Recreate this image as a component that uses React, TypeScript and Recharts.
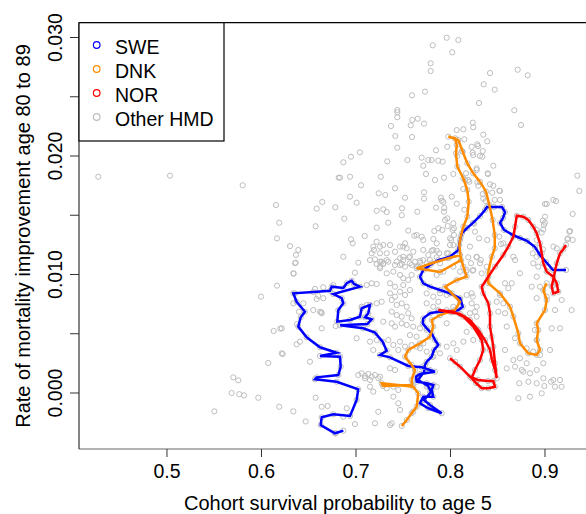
import React from "react";
import { ScatterChart, Scatter, XAxis, YAxis, ReferenceLine } from "recharts";

// axis ranges and ticks
const X_MIN = 0.4069;
const X_MAX = 0.9582;
const Y_MIN = -0.004726;
const Y_MAX = 0.031249;
const X_TICKS = [0.5, 0.6, 0.7, 0.8, 0.9];
const Y_TICKS = [0, 0.005, 0.01, 0.015, 0.02, 0.025, 0.03];

const LEGEND = [
  { label: "SWE", color: "#0000FF" },
  { label: "DNK", color: "#FF8C00" },
  { label: "NOR", color: "#FF0000" },
  { label: "Other HMD", color: "#BEBEBE" },
];

type Pt = [number, number];

const SWE: Pt[] = [
  [0.6866, -0.00318], [0.6778, -0.0034], [0.6626, -0.0027], [0.6637, -0.00205], [0.676, -0.0018],
  [0.6937, -0.00194], [0.7007, -0.00059], [0.7024, 0.00031], [0.6796, 0.00095], [0.6566, 0.00116],
  [0.6584, 0.00132], [0.6813, 0.00152], [0.6838, 0.00222], [0.6831, 0.00306], [0.6619, 0.00312],
  [0.6796, 0.0034], [0.6619, 0.00386], [0.6478, 0.0047], [0.6389, 0.0056], [0.6415, 0.00639],
  [0.646, 0.00686], [0.6372, 0.0077], [0.6337, 0.00841], [0.6548, 0.00852], [0.6725, 0.00863],
  [0.6743, 0.00897], [0.6866, 0.00886], [0.6902, 0.00926], [0.6954, 0.00948], [0.6979, 0.0092],
  [0.7042, 0.00897], [0.676, 0.00835], [0.6849, 0.008], [0.6866, 0.00757], [0.6813, 0.007],
  [0.6802, 0.00602], [0.6937, 0.00616], [0.7042, 0.00644], [0.706, 0.00715], [0.7148, 0.00743],
  [0.713, 0.00673], [0.7095, 0.00639], [0.7166, 0.00622], [0.712, 0.00582], [0.6831, 0.00571],
  [0.7077, 0.00546], [0.7201, 0.00509], [0.7282, 0.00433], [0.7325, 0.00357], [0.7254, 0.00321],
  [0.736, 0.00301], [0.7553, 0.00228], [0.7695, 0.00217], [0.7783, 0.00194], [0.7836, 0.0018],
  [0.7677, 0.0016], [0.7635, 0.00138], [0.7642, 0.00095], [0.7748, 0.00082], [0.7818, 0.00068],
  [0.7801, 0.00025], [0.7818, -0.00031], [0.7712, -0.00031], [0.7677, -0.00087], [0.7765, -0.00129],
  [0.7907, -0.00171], [0.7783, -0.00101], [0.772, -0.00059], [0.7794, 0.00008], [0.7762, 0.00059],
  [0.7656, 0.0011], [0.772, 0.00177], [0.773, 0.00236], [0.7748, 0.00264], [0.7801, 0.00306],
  [0.7825, 0.00363], [0.7871, 0.00405], [0.7836, 0.00447], [0.7801, 0.00504], [0.7748, 0.00546],
  [0.7706, 0.00588], [0.7712, 0.0063], [0.7783, 0.00673], [0.7871, 0.00686], [0.7995, 0.00686],
  [0.8083, 0.007], [0.813, 0.00728], [0.8101, 0.008], [0.7995, 0.00841], [0.7889, 0.00869],
  [0.7783, 0.00897], [0.7712, 0.00926], [0.7677, 0.00981], [0.7712, 0.01038], [0.7783, 0.0108],
  [0.7871, 0.01122], [0.7995, 0.0115], [0.8083, 0.01207], [0.8101, 0.01291], [0.8122, 0.0135],
  [0.8175, 0.01392], [0.8238, 0.01435], [0.8312, 0.01494], [0.8365, 0.01544], [0.8386, 0.0157],
  [0.846, 0.0157], [0.8545, 0.0157], [0.8577, 0.01527], [0.8556, 0.01477], [0.8524, 0.01435],
  [0.8566, 0.01376], [0.8661, 0.01333], [0.8735, 0.01308], [0.881, 0.01283], [0.8894, 0.01232],
  [0.8947, 0.01165], [0.9011, 0.01105], [0.9085, 0.01038], [0.9222, 0.01038],
];

const DNK: Pt[] = [
  [0.7484, -0.00278], [0.7537, -0.00228], [0.7589, -0.00171], [0.7642, -0.00116], [0.7659, -0.00003],
  [0.7606, 0.00053], [0.7272, 0.00082], [0.7286, 0.00059], [0.7593, 0.00068], [0.7589, 0.0011],
  [0.7624, 0.00194], [0.7589, 0.00236], [0.7519, 0.00306], [0.7553, 0.00363], [0.7677, 0.00419],
  [0.7783, 0.00475], [0.7818, 0.0056], [0.7801, 0.00616], [0.7889, 0.00658], [0.8048, 0.007],
  [0.8101, 0.0077], [0.8013, 0.00841], [0.7942, 0.00897], [0.8066, 0.00954], [0.8171, 0.00981],
  [0.8136, 0.01066], [0.8101, 0.01165], [0.7977, 0.01137], [0.7801, 0.01095], [0.7642, 0.01052],
  [0.7889, 0.01021], [0.8111, 0.01122], [0.8093, 0.01249], [0.8108, 0.01319], [0.8136, 0.01403],
  [0.8178, 0.01488], [0.8193, 0.01614], [0.8178, 0.01713], [0.8136, 0.01812], [0.8072, 0.0191],
  [0.8058, 0.02023], [0.8066, 0.02093], [0.8048, 0.02149], [0.7977, 0.02163], [0.8083, 0.02135],
  [0.813, 0.02036], [0.8178, 0.01938], [0.8241, 0.01854], [0.8312, 0.01783], [0.8376, 0.01699],
  [0.8411, 0.01586], [0.8446, 0.0146], [0.8468, 0.01333], [0.8468, 0.01221], [0.8436, 0.0115],
  [0.84, 0.01024], [0.84, 0.00926], [0.8524, 0.00841], [0.863, 0.00728], [0.8665, 0.00644],
  [0.8718, 0.00504], [0.8735, 0.00419], [0.8823, 0.00335], [0.8912, 0.00321], [0.8947, 0.00363],
  [0.8912, 0.00447], [0.8929, 0.00532], [0.8912, 0.00588], [0.9, 0.007], [0.9018, 0.00785],
  [0.8982, 0.00869], [0.9018, 0.00926],
];

const NOR: Pt[] = [
  [0.7995, 0.00293], [0.8101, 0.00222], [0.8206, 0.00138], [0.8291, 0.0011], [0.8397, 0.00101],
  [0.8453, 0.00101], [0.8471, 0.00053], [0.84, 0.0004], [0.833, 0.0004], [0.827, 0.00084],
  [0.8224, 0.00124], [0.8259, 0.00194], [0.8312, 0.00278], [0.8347, 0.00363], [0.833, 0.00447],
  [0.8241, 0.0056], [0.8136, 0.00644], [0.803, 0.00686], [0.7871, 0.007], [0.8013, 0.00679],
  [0.8101, 0.00667], [0.8206, 0.00616], [0.8294, 0.00532], [0.8365, 0.00447], [0.8418, 0.00363],
  [0.8439, 0.00278], [0.8471, 0.00194], [0.8489, 0.00124], [0.8471, 0.00251], [0.8453, 0.00391],
  [0.8436, 0.00475], [0.8418, 0.0056], [0.8418, 0.00673], [0.84, 0.00757], [0.8347, 0.00841],
  [0.833, 0.00897], [0.84, 0.00981], [0.8471, 0.01066], [0.8559, 0.01165], [0.8612, 0.01235],
  [0.8665, 0.01319], [0.8683, 0.01403], [0.8701, 0.01496], [0.877, 0.01488], [0.8823, 0.0146],
  [0.8876, 0.01403], [0.8912, 0.01348], [0.8947, 0.01263], [0.8965, 0.01179], [0.8982, 0.01095],
  [0.9018, 0.01024], [0.9088, 0.00981], [0.9124, 0.00926], [0.9141, 0.00855], [0.9088, 0.00841],
  [0.9071, 0.00897], [0.9124, 0.01095], [0.9159, 0.01179], [0.9194, 0.01213], [0.9222, 0.01249],
];

// other HMD countries, by area of the plot
const OTHER_LEFT: Pt[] = [
  [0.4273, 0.01825], [0.5032, 0.01834], [0.5801, 0.01753], [0.6153, 0.01586], [0.6188, 0.01437],
  [0.6164, 0.01305], [0.6302, 0.0124], [0.6365, 0.01165], [0.6389, 0.01207], [0.6362, 0.011],
  [0.6341, 0.01007], [0.6164, 0.00906], [0.6584, 0.01556], [0.6643, 0.01612], [0.6781, 0.01567],
  [0.6573, 0.01407], [0.6817, 0.01817], [0.6566, 0.00878], [0.6654, 0.00892], [0.5995, 0.00813],
  [0.6129, 0.00523], [0.6199, 0.00543], [0.6372, 0.00411], [0.6224, 0.00329], [0.6072, 0.00253],
  [0.5702, 0.00132], [0.5754, 0.00107], [0.5684, 0.0], [0.5765, -0.0001], [0.5815, -0.0002],
  [0.5966, -0.0004], [0.5501, -0.00155], [0.6188, -0.00116], [0.6337, -0.00155], [0.6601, 0.00819],
  [0.6584, 0.00793], [0.6337, 0.00757], [0.6443, 0.00757], [0.6397, 0.00686], [0.6633, 0.00681],
  [0.6376, 0.0058], [0.6785, 0.00565], [0.6513, 0.00264], [0.6573, -0.0004], [0.67, -0.0011],
  [0.6468, -0.0024], [0.6785, -0.0034], [0.6866, 0.0115], [0.6947, 0.01297], [0.6965, 0.01263],
];

const OTHER_UPPER: Pt[] = [
  [0.796, 0.02998], [0.8083, 0.02979], [0.8019, 0.02875], [0.7812, 0.02934], [0.779, 0.02782],
  [0.779, 0.02717], [0.8418, 0.027], [0.8351, 0.02605], [0.8468, 0.0256], [0.8711, 0.02728],
  [0.8817, 0.02681], [0.8302, 0.02447], [0.773, 0.02543], [0.7593, 0.02512], [0.7437, 0.02388],
  [0.7437, 0.02369], [0.7437, 0.02327], [0.7653, 0.02315], [0.7596, 0.02304], [0.7579, 0.02259],
  [0.772, 0.02273], [0.737, 0.02253], [0.7416, 0.02169], [0.7593, 0.0216], [0.7437, 0.0207],
  [0.8675, 0.02386], [0.8746, 0.02262], [0.8066, 0.02219], [0.8136, 0.02225], [0.8235, 0.02281],
  [0.8241, 0.02242], [0.8347, 0.0218], [0.8389, 0.02124], [0.8146, 0.02141], [0.7966, 0.02078],
  [0.8291, 0.02084], [0.8341, 0.02042], [0.8241, 0.02008], [0.8337, 0.01994], [0.7847, 0.02048],
  [0.7042, 0.02031], [0.6947, 0.01994], [0.6866, 0.01947], [0.7331, 0.01955], [0.7543, 0.01966],
  [0.7765, 0.01966], [0.7801, 0.01966], [0.7871, 0.0196], [0.7917, 0.01952], [0.8453, 0.01918],
  [0.8277, 0.01882], [0.6831, 0.01817], [0.6937, 0.01825], [0.7053, 0.01753], [0.7262, 0.01825],
  [0.7741, 0.01848], [0.7836, 0.01797], [0.7931, 0.01817], [0.803, 0.01848], [0.8153, 0.01797],
  [0.8199, 0.01783], [0.8397, 0.01848], [0.9342, 0.01834], [0.9363, 0.01705], [0.6937, 0.01657],
  [0.7007, 0.01606], [0.724, 0.01685], [0.731, 0.01671], [0.7519, 0.01648], [0.772, 0.01694],
  [0.772, 0.0164], [0.7899, 0.01648], [0.7907, 0.01623], [0.8013, 0.01657], [0.8066, 0.01597],
  [0.8347, 0.0164], [0.8442, 0.0169], [0.8524, 0.01705], [0.8524, 0.01629], [0.8453, 0.01749],
  [0.9, 0.01595], [0.9018, 0.01595], [0.9088, 0.01629], [0.9116, 0.0162], [0.9293, 0.01511],
  [0.9257, 0.01361], [0.9236, 0.01297], [0.9, 0.01488], [0.9, 0.01437], [0.8982, 0.01381],
  [0.9088, 0.01235], [0.9124, 0.01221], [0.6876, 0.01471], [0.7219, 0.01538], [0.7325, 0.01527],
  [0.7219, 0.01395], [0.7342, 0.01437], [0.7484, 0.015], [0.7649, 0.0153], [0.7553, 0.0137],
  [0.7642, 0.01333], [0.7695, 0.01319], [0.7712, 0.01291], [0.7829, 0.01367], [0.7871, 0.0139],
  [0.7219, 0.01277], [0.7183, 0.01235], [0.7254, 0.01235], [0.7289, 0.01249], [0.7166, 0.01179],
  [0.7254, 0.01179], [0.7325, 0.01179], [0.7413, 0.01192], [0.75, 0.01235], [0.7537, 0.01221],
  [0.8122, 0.02042], [0.8072, 0.02], [0.8224, 0.02078], [0.8284, 0.02099], [0.8235, 0.02028],
  [0.8312, 0.02], [0.7712, 0.01918], [0.8164, 0.01854], [0.8188, 0.01797], [0.8277, 0.01896],
  [0.8394, 0.01854], [0.7413, 0.01727], [0.8136, 0.01722], [0.8284, 0.01778], [0.8294, 0.01749],
  [0.8418, 0.01761], [0.8516, 0.01707], [0.8341, 0.01679], [0.7487, 0.01559], [0.7934, 0.01561],
  [0.7847, 0.01564], [0.8146, 0.01547], [0.8372, 0.0162], [0.8468, 0.01629], [0.7289, 0.0155],
  [0.7617, 0.01327], [0.7818, 0.013], [0.7913, 0.01376], [0.797, 0.01409], [0.8037, 0.0139],
  [0.8249, 0.01429], [0.8259, 0.01361], [0.8302, 0.01305], [0.8389, 0.01291], [0.8008, 0.01291],
  [0.803, 0.01249], [0.7801, 0.01201], [0.7881, 0.01179], [0.8516, 0.01319], [0.8534, 0.01257],
  [0.8277, 0.01145], [0.832, 0.01122], [0.8383, 0.01066], [0.8188, 0.01145], [0.8217, 0.01095],
  [0.8164, 0.01024], [0.8235, 0.01032], [0.8976, 0.01454], [0.8989, 0.01418], [0.8912, 0.01376],
  [0.8965, 0.01353], [0.8912, 0.01291], [0.8979, 0.01213], [0.887, 0.01179], [0.8912, 0.0115],
  [0.8929, 0.01066], [0.9035, 0.01066], [0.9265, 0.01367], [0.9293, 0.01291], [0.9243, 0.01305],
  [0.7695, 0.01986], [0.7925, 0.01612], [0.7931, 0.0153], [0.7942, 0.0146], [0.7966, 0.01474],
  [0.803, 0.01432], [0.8023, 0.01376], [0.8037, 0.01333], [0.7995, 0.01305], [0.7092, 0.01325],
  [0.7854, 0.01201], [0.719, 0.01207], [0.7148, 0.01122], [0.7201, 0.01128], [0.7219, 0.01089],
  [0.7254, 0.01066], [0.7289, 0.01089], [0.7466, 0.01137], [0.75, 0.0115], [0.7561, 0.01145],
  [0.7431, 0.01108], [0.7484, 0.01089], [0.7571, 0.01095], [0.7624, 0.01108], [0.7677, 0.01116],
  [0.7712, 0.01122], [0.7748, 0.01095], [0.7783, 0.01122], [0.7642, 0.01066], [0.7748, 0.01066],
  [0.7854, 0.01145], [0.7889, 0.01095], [0.7977, 0.01179], [0.7995, 0.0115], [0.8048, 0.01165],
];

const OTHER_CENTER: Pt[] = [
  [0.6354, 0.01095], [0.7024, 0.011], [0.7254, 0.01108], [0.7289, 0.01095], [0.7342, 0.01108],
  [0.7466, 0.0108], [0.7519, 0.01066], [0.7589, 0.0108], [0.7659, 0.01066], [0.7677, 0.011],
  [0.6337, 0.0101], [0.6989, 0.01015], [0.7254, 0.01052], [0.7325, 0.0101], [0.7395, 0.01024],
  [0.7466, 0.00996], [0.75, 0.00968], [0.7553, 0.00954], [0.7589, 0.00996], [0.7748, 0.01052],
  [0.7854, 0.00996], [0.7924, 0.01024], [0.803, 0.01066], [0.8101, 0.01024], [0.8171, 0.01038],
  [0.6354, 0.00841], [0.6654, 0.008], [0.676, 0.00911], [0.7113, 0.00911], [0.7166, 0.00926],
  [0.7219, 0.0092], [0.736, 0.00926], [0.7413, 0.00897], [0.75, 0.00911], [0.736, 0.00841],
  [0.7413, 0.00813], [0.7466, 0.00855], [0.7519, 0.00827], [0.7571, 0.00869], [0.7748, 0.00841],
  [0.7818, 0.00813], [0.7889, 0.00841], [0.796, 0.00827], [0.8101, 0.00785], [0.8171, 0.00827],
  [0.8224, 0.00841], [0.6619, 0.00686], [0.7219, 0.00757], [0.7272, 0.0077], [0.7378, 0.00785],
  [0.7431, 0.00743], [0.7484, 0.00757], [0.7537, 0.00728], [0.7378, 0.00686], [0.7431, 0.00658],
  [0.7484, 0.00644], [0.7553, 0.00673], [0.7589, 0.0063], [0.7748, 0.00757], [0.7818, 0.00728],
  [0.7871, 0.0077], [0.796, 0.007], [0.803, 0.00728], [0.8235, 0.00813], [0.8206, 0.00673],
  [0.8277, 0.00728], [0.7289, 0.00602], [0.7378, 0.00588], [0.7413, 0.0056], [0.7484, 0.00588],
  [0.7537, 0.00574], [0.7606, 0.0056], [0.7677, 0.00546], [0.7748, 0.00532], [0.7571, 0.00489],
  [0.7642, 0.00475], [0.6548, 0.007], [0.6637, 0.00673], [0.706, 0.00728], [0.7113, 0.00743],
  [0.6214, 0.00546], [0.6637, 0.00546], [0.6407, 0.00433], [0.6214, 0.00335], [0.7007, 0.00462],
  [0.7148, 0.00433], [0.7219, 0.00447], [0.7183, 0.00363], [0.7342, 0.00447], [0.7395, 0.00405],
  [0.7466, 0.00433], [0.7519, 0.00391], [0.7448, 0.00363], [0.7589, 0.00405], [0.7642, 0.00391],
  [0.7677, 0.00377], [0.7712, 0.00419], [0.7748, 0.00349], [0.7818, 0.00306], [0.796, 0.00391],
  [0.7889, 0.00335], [0.803, 0.00419], [0.8136, 0.00433], [0.8241, 0.00447], [0.7024, 0.00152],
  [0.706, 0.00166], [0.7095, 0.00143], [0.713, 0.0016], [0.7166, 0.00138], [0.7201, 0.00152],
  [0.7236, 0.00124], [0.7095, 0.00124], [0.7148, 0.0011], [0.7254, 0.00138], [0.736, 0.00208],
  [0.7413, 0.00194], [0.7325, 0.0004], [0.7395, 0.00053], [0.7448, 0.00025], [0.7148, 0.00053],
  [0.7183, 0.00011], [0.7748, 0.00053], [0.7783, 0.00011], [0.7854, 0.00053], [0.6637, -0.00116],
  [0.6866, -0.002], [0.6902, -0.00129], [0.6989, -0.00262], [0.7201, -0.00256], [0.7236, -0.00158],
  [0.736, -0.0027], [0.7378, -0.00256], [0.7448, -0.00087], [0.7466, -0.00143], [0.7395, -0.00031],
  [0.7606, -0.00158], [0.736, 0.01249], [0.7466, 0.01235], [0.7519, 0.01263], [0.7606, 0.01192],
  [0.7571, 0.0115], [0.75, 0.01122], [0.7413, 0.0108], [0.7325, 0.01122], [0.7272, 0.01108],
  [0.7712, 0.01207], [0.7765, 0.01165], [0.7818, 0.01207], [0.7854, 0.01263], [0.7995, 0.01249],
  [0.796, 0.01179], [0.8206, 0.01235], [0.8277, 0.0115], [0.8312, 0.01095], [0.8241, 0.01038],
  [0.833, 0.0101], [0.8559, 0.01263], [0.8665, 0.0115], [0.8683, 0.01122], [0.8735, 0.0101],
  [0.8648, 0.00926],
];

const OTHER_RIGHT: Pt[] = [
  [0.8876, 0.01095], [0.8912, 0.00981], [0.8859, 0.00897], [0.8947, 0.00897], [0.9018, 0.00813],
  [0.8912, 0.008], [0.9177, 0.00785], [0.9282, 0.007], [0.9106, 0.007], [0.9071, 0.00546],
  [0.9159, 0.00546], [0.8577, 0.00926], [0.8612, 0.00884], [0.8524, 0.00827], [0.8489, 0.0077],
  [0.8559, 0.00757], [0.8506, 0.00686], [0.8577, 0.00673], [0.8894, 0.00532], [0.8912, 0.00447],
  [0.8806, 0.00377], [0.8876, 0.00349], [0.8947, 0.00321], [0.8735, 0.00293], [0.8665, 0.00278],
  [0.8683, 0.00222], [0.877, 0.0018], [0.8841, 0.00166], [0.8912, 0.00194], [0.8824, 0.00095],
  [0.8912, 0.00082], [0.8982, 0.00124], [0.9088, 0.0011], [0.9106, 0.00053], [0.9159, 0.0011],
  [0.9176, 0.00053], [0.8841, -0.00031], [0.8965, -0.00003], [0.8224, 0.00757], [0.8259, 0.00686],
  [0.8277, 0.00644], [0.796, 0.00588], [0.8277, 0.00546], [0.8171, 0.00517], [0.8312, 0.00504],
  [0.8066, 0.00363], [0.8048, 0.00264], [0.9088, 0.00911], [0.8595, 0.0056], [0.8683, 0.00462],
  [0.8577, 0.00363], [0.8595, 0.00208], [0.8806, 0.00251], [0.8754, 0.00194], [0.8982, 0.00251],
  [0.9053, 0.00363], [0.8718, -0.00045], [0.8728, 0.00082], [0.8993, 0.00059], [0.9063, 0.00095],
];

const toXY = (pts: Pt[]) => pts.map(([x, y]) => ({ x, y }));

const otherData = toXY([...OTHER_LEFT, ...OTHER_UPPER, ...OTHER_CENTER, ...OTHER_RIGHT]);
const haloData = toXY([...SWE, ...DNK, ...NOR]);

const FONT = "'Liberation Sans', Arial, sans-serif";
const FS = 19.5;

const grayCircle = (p: any) => (
  <circle cx={p.cx} cy={p.cy} r={2.6} fill="none" stroke="#BEBEBE" strokeWidth={1} />
);
const noShape = () => <g />;

function XTick({ x, payload }: any) {
  return (
    <text x={x} y={478} textAnchor="middle" fontSize={FS} fontFamily={FONT} fill="#000">
      {payload.value.toFixed(1)}
    </text>
  );
}

function YTick({ y, payload }: any) {
  const v = payload.value;
  const thousandths = Math.round(v * 1000);
  if (thousandths % 10 !== 0) return <g />;
  const tx = 61.7;
  return (
    <text
      x={tx}
      y={y}
      transform={`rotate(-90 ${tx} ${y})`}
      textAnchor="middle"
      fontSize={FS}
      fontFamily={FONT}
      fill="#000"
    >
      {v.toFixed(3)}
    </text>
  );
}

export default function App() {
  return (
    <div
      style={{
        position: "fixed",
        left: 0,
        top: 0,
        width: 586,
        height: 514,
        overflow: "hidden",
        background: "#fff",
      }}
    >
      <ScatterChart width={620} height={514} margin={{ top: 22.7, right: 20, left: 0, bottom: 0 }}>
        <XAxis
          type="number"
          dataKey="x"
          domain={[X_MIN, X_MAX]}
          ticks={X_TICKS}
          allowDataOverflow
          height={65}
          tickSize={8}
          axisLine={{ stroke: "#666", strokeWidth: 1.2 }}
          tickLine={{ stroke: "#333" }}
          tick={<XTick />}
        />
        <YAxis
          type="number"
          dataKey="y"
          domain={[Y_MIN, Y_MAX]}
          ticks={Y_TICKS}
          allowDataOverflow
          width={79}
          tickSize={9}
          axisLine={{ stroke: "#333", strokeWidth: 1.2 }}
          tickLine={{ stroke: "#333" }}
          tick={<YTick />}
        />
        <ReferenceLine y={Y_MAX} stroke="#000" strokeWidth={1.2} />
        <Scatter data={otherData} shape={grayCircle} isAnimationActive={false} />
        <Scatter data={haloData} shape={grayCircle} isAnimationActive={false} />
        <Scatter
          data={toXY(SWE)}
          shape={noShape}
          line={{ stroke: "#0000FF", strokeWidth: 2.5 }}
          lineJointType="linear"
          isAnimationActive={false}
        />
        <Scatter
          data={toXY(DNK)}
          shape={noShape}
          line={{ stroke: "#FF8C00", strokeWidth: 2.5 }}
          lineJointType="linear"
          isAnimationActive={false}
        />
        <Scatter
          data={toXY(NOR)}
          shape={noShape}
          line={{ stroke: "#FF0000", strokeWidth: 2.5 }}
          lineJointType="linear"
          isAnimationActive={false}
        />
      </ScatterChart>

      {/* legend and axis titles */}
      <svg
        width={586}
        height={514}
        style={{ position: "absolute", left: 0, top: 0, pointerEvents: "none" }}
        fontFamily={FONT}
        fontSize={FS}
      >
        <rect x={79} y={22.7} width={145} height={118.3} fill="#fff" stroke="#000" strokeWidth={1.2} />
        {LEGEND.map((item, i) => (
          <g key={item.label}>
            <circle cx={96.7} cy={45 + i * 24} r={3.3} fill="none" stroke={item.color} strokeWidth={1.2} />
            <text x={115} y={54 + i * 24} fill="#000">
              {item.label}
            </text>
          </g>
        ))}
        <text x={338} y={510} textAnchor="middle" fontSize={20} fill="#000">
          Cohort survival probability to age 5
        </text>
        <text
          x={29.5}
          y={236}
          transform="rotate(-90 29.5 236)"
          textAnchor="middle"
          fontSize={20}
          fill="#000"
        >
          Rate of mortality improvement age 80 to 89
        </text>
      </svg>
    </div>
  );
}
